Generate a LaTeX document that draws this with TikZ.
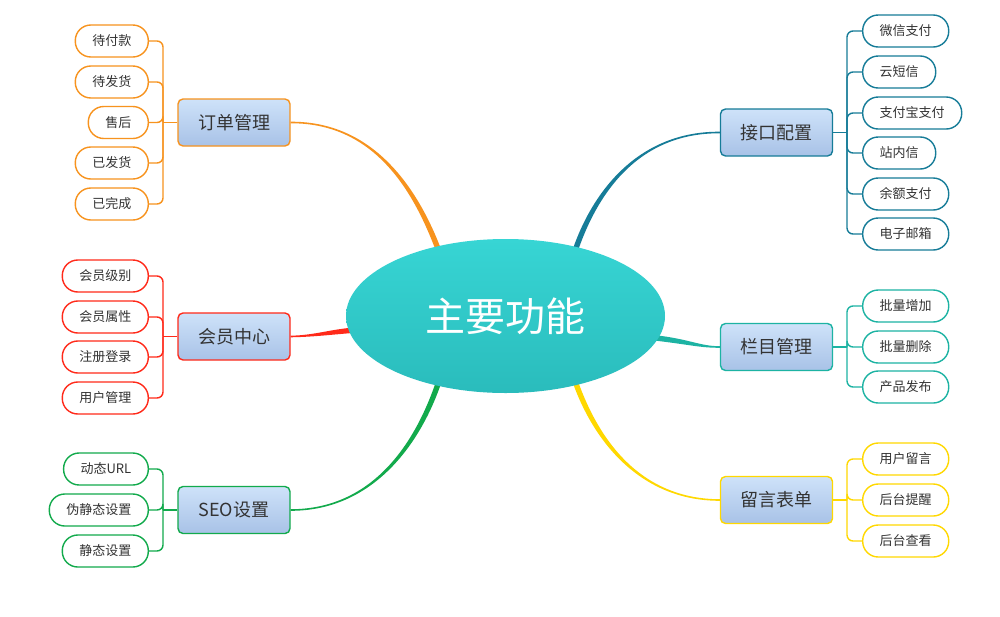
\documentclass[tikz,border=0pt]{standalone}
\usepackage{fontspec}
\setmainfont{Noto Sans CJK SC}
\usetikzlibrary{shapes.geometric,calc}
\definecolor{cOrange}{HTML}{F7931E}
\definecolor{cBlue}{HTML}{167C98}
\definecolor{cTeal}{HTML}{1DB3A3}
\definecolor{cYellow}{HTML}{FFD800}
\definecolor{cRed}{HTML}{FF2A1A}
\definecolor{cGreen}{HTML}{12AA4C}
\definecolor{txt}{HTML}{333333}
\definecolor{boxTop}{HTML}{CEE2F9}
\definecolor{boxBot}{HTML}{A8C2E7}
\definecolor{ellTop}{HTML}{37D5D4}
\definecolor{ellBot}{HTML}{2ABCBC}
% tapered curve: colour, start, control1, control2, end
\newcommand\mmtaper[5]{%
  \path (#2) coordinate (tA) (#3) coordinate (tC1) (#4) coordinate (tC2) (#5) coordinate (tB);
  \path ($(tA)!0.8pt!90:(tC1)$) coordinate (tAl) ($(tA)!0.8pt!-90:(tC1)$) coordinate (tAr)
        ($(tB)!2.7pt!-90:(tC2)$) coordinate (tBl) ($(tB)!2.7pt!90:(tC2)$) coordinate (tBr);
  \fill[#1] (tAl) .. controls ($(tC1)+(tAl)-(tA)$) and ($(tC2)+(tBl)-(tB)$) .. (tBl)
    -- (tBr) .. controls ($(tC2)+(tBr)-(tB)$) and ($(tC1)+(tAr)-(tA)$) .. (tAr) -- cycle;
}
\begin{document}
\begin{tikzpicture}[x=1pt,y=-1pt,
  branchbox/.style={draw=#1, line width=1.4pt, rounded corners=5pt, top color=boxTop, bottom color=boxBot,
    minimum width=112pt, minimum height=47pt, inner sep=0pt, font=\fontsize{18}{20}\selectfont, text=txt},
  leafL/.style={draw=#1, line width=1.4pt, fill=white, rounded corners=15.5pt, minimum height=32pt,
    inner xsep=17pt, inner ysep=0pt, font=\fontsize{13}{15}\selectfont, text=txt, anchor=east},
  leafR/.style={leafL=#1, anchor=west},
  link/.style={draw=#1, line width=1.4pt, rounded corners=6pt}
]
\useasboundingbox[fill=white] (0,0) rectangle (1000,616);

% branch boxes
\node[branchbox=cOrange] (dd) at (234,122.5) {订单管理};
\node[branchbox=cRed] (hy) at (234,336.5) {会员中心};
\node[branchbox=cGreen] (seo) at (234,510) {SEO设置};
\node[branchbox=cBlue] (jk) at (776.5,132.5) {接口配置};
\node[branchbox=cTeal] (lm) at (776.5,347) {栏目管理};
\node[branchbox=cYellow] (ly) at (776.5,500) {留言表单};

% central anchor points for main curves
\coordinate (cDD) at (440,254);
\coordinate (cHY) at (356,330);
\coordinate (cSEO) at (440,378);
\coordinate (cJK) at (574,254);
\coordinate (cLM) at (656,338);
\coordinate (cLY) at (574,378);

\mmtaper{cOrange}{dd.east}{380,122}{420,200}{cDD}
\mmtaper{cRed}{hy.east}{315,336}{330,332}{cHY}
\mmtaper{cGreen}{seo.east}{375,510}{420,440}{cSEO}
\mmtaper{cBlue}{jk.west}{640,132}{595,190}{cJK}
\mmtaper{cTeal}{lm.west}{700,347}{690,342}{cLM}
\mmtaper{cYellow}{ly.west}{640,500}{595,440}{cLY}

% central ellipse
\node[ellipse, minimum width=319pt, minimum height=154pt, inner sep=0pt, top color=ellTop, bottom color=ellBot,
  text=white, font=\fontsize{40}{44}\selectfont] (main) at (505.5,316) {主要功能};

% bar coordinates
\coordinate (bDD) at (163,122.5);
\coordinate (bHY) at (163,336.5);
\coordinate (bSEO) at (163,510);
\coordinate (bJK) at (847,132.5);
\coordinate (bLM) at (847,347);
\coordinate (bLY) at (847,500);

% left leaves: 订单管理
\node[leafL=cOrange] (d1) at (149,41) {待付款};
\node[leafL=cOrange] (d2) at (149,82) {待发货};
\node[leafL=cOrange] (d3) at (149,122.5) {售后};
\node[leafL=cOrange] (d4) at (149,163) {已发货};
\node[leafL=cOrange] (d5) at (149,204) {已完成};
\foreach \n in {d1,d2,d3,d4,d5} \draw[link=cOrange] (\n.east) -| (bDD);
\draw[link=cOrange] (bDD) -- (dd.west);

% 会员中心
\node[leafL=cRed] (h1) at (149,276) {会员级别};
\node[leafL=cRed] (h2) at (149,317) {会员属性};
\node[leafL=cRed] (h3) at (149,357) {注册登录};
\node[leafL=cRed] (h4) at (149,398) {用户管理};
\foreach \n in {h1,h2,h3,h4} \draw[link=cRed] (\n.east) -| (bHY);
\draw[link=cRed] (bHY) -- (hy.west);

% SEO设置
\node[leafL=cGreen] (s1) at (149,469) {动态URL};
\node[leafL=cGreen] (s2) at (149,510) {伪静态设置};
\node[leafL=cGreen] (s3) at (149,551) {静态设置};
\foreach \n in {s1,s2,s3} \draw[link=cGreen] (\n.east) -| (bSEO);
\draw[link=cGreen] (bSEO) -- (seo.west);

% 接口配置
\node[leafR=cBlue] (j1) at (862,31) {微信支付};
\node[leafR=cBlue] (j2) at (862,72) {云短信};
\node[leafR=cBlue] (j3) at (862,113) {支付宝支付};
\node[leafR=cBlue] (j4) at (862,153) {站内信};
\node[leafR=cBlue] (j5) at (862,194) {余额支付};
\node[leafR=cBlue] (j6) at (862,234) {电子邮箱};
\foreach \n in {j1,j2,j3,j4,j5,j6} \draw[link=cBlue] (\n.west) -| (bJK);
\draw[link=cBlue] (bJK) -- (jk.east);

% 栏目管理
\node[leafR=cTeal] (l1) at (862,306) {批量增加};
\node[leafR=cTeal] (l2) at (862,347) {批量删除};
\node[leafR=cTeal] (l3) at (862,387) {产品发布};
\foreach \n in {l1,l2,l3} \draw[link=cTeal] (\n.west) -| (bLM);
\draw[link=cTeal] (bLM) -- (lm.east);

% 留言表单
\node[leafR=cYellow] (y1) at (862,459) {用户留言};
\node[leafR=cYellow] (y2) at (862,500) {后台提醒};
\node[leafR=cYellow] (y3) at (862,541) {后台查看};
\foreach \n in {y1,y2,y3} \draw[link=cYellow] (\n.west) -| (bLY);
\draw[link=cYellow] (bLY) -- (ly.east);
\end{tikzpicture}
\end{document}
